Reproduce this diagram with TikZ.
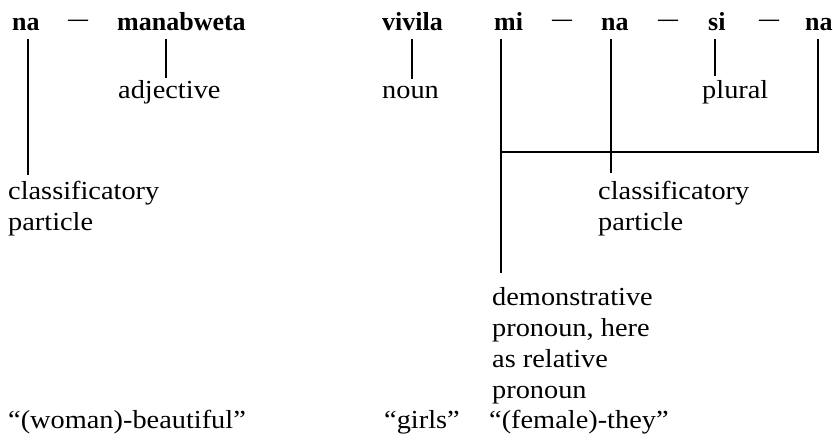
\documentclass[tikz,border=0pt]{standalone}
\usepackage{fontspec}
\setmainfont{Liberation Serif}[FakeStretch=1.09]
\newfontfamily\bwfont{Liberation Serif}
\begin{document}
\begin{tikzpicture}[x=1pt,y=-1pt,
  word/.style={inner sep=0pt, anchor=base west, font=\bwfont\bfseries\fontsize{26}{26}\selectfont},
  lbl/.style={inner sep=0pt, anchor=base west, font=\fontsize{26}{31}\selectfont, align=left},
  dashtxt/.style={inner sep=0pt, anchor=base, font=\bwfont\bfseries\fontsize{20}{20}\selectfont},
  link/.style={line width=1.3pt}]
\useasboundingbox (0,0) rectangle (833,445);
% top row
\node[word] (na1) at (12,30) {na};
\node[dashtxt] (d1) at (78,25.5) {—};
\node[word] (manab) at (117,30) {manabweta};
\node[word] (vivila) at (382,30) {vivila};
\node[word] (mi) at (494,30) {mi};
\node[dashtxt] (d2) at (562,25.5) {—};
\node[word] (na2) at (601,30) {na};
\node[dashtxt] (d3) at (668,25.5) {—};
\node[word] (si) at (708,30) {si};
\node[dashtxt] (d4) at (769,25.5) {—};
\node[word] (na3) at (805,30) {na};
% labels (base anchor = baseline of the last line)
\node[lbl] (adj) at (118,98) {adjective};
\node[lbl] (noun) at (382,98) {noun};
\node[lbl] (plural) at (702,98) {plural};
\node[lbl] (cl1) at (8,230) {classificatory\\particle};
\node[lbl] (cl2) at (598,230) {classificatory\\particle};
\node[lbl] (dem) at (492,398) {demonstrative\\pronoun, here\\as relative\\pronoun};
\node[lbl] (tr1) at (8,428) {“(woman)-beautiful”};
\node[lbl] (tr2) at (384,428) {“girls”};
\node[lbl] (tr3) at (489,428) {“(female)-they”};
% connector end points
\coordinate (na1t) at (28,39);   \coordinate (na1b) at (28,175);
\coordinate (mant) at (166,39);  \coordinate (manb) at (166,78);
\coordinate (vivt) at (412,39);  \coordinate (vivb) at (412,79);
\coordinate (mit) at (501,39);   \coordinate (mib) at (501,273);
\coordinate (na2t) at (611,39);  \coordinate (na2b) at (611,173);
\coordinate (sit) at (715,39);   \coordinate (sib) at (715,76);
\coordinate (na3t) at (818,39);  \coordinate (na3c) at (818,152);
\coordinate (brl) at (501,152);
% connectors
\draw[link] (na1t) -- (na1b);
\draw[link] (mant) -- (manb);
\draw[link] (vivt) -- (vivb);
\draw[link] (mit) -- (mib);
\draw[link] (na2t) -- (na2b);
\draw[link] (sit) -- (sib);
\draw[link] (na3t) -- (na3c) -- (brl);
\end{tikzpicture}
\end{document}
